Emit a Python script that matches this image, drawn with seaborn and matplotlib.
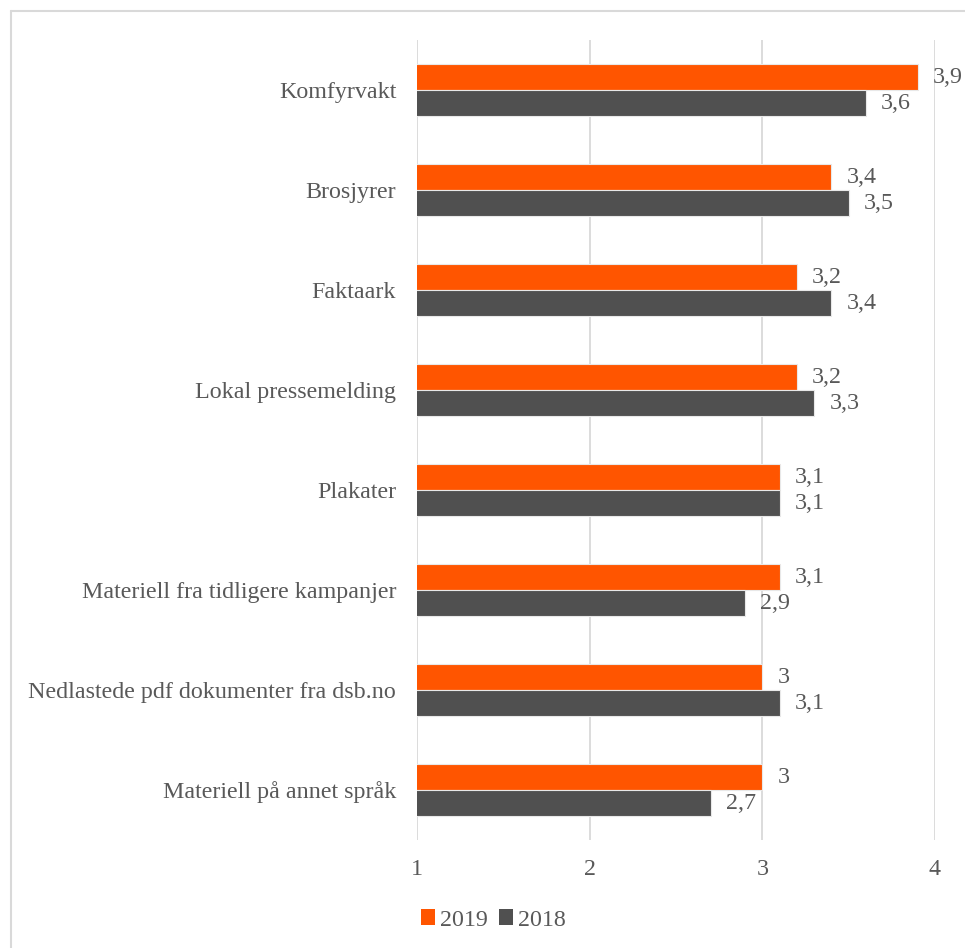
import matplotlib
matplotlib.use("Agg")
import matplotlib.pyplot as plt
from matplotlib.lines import Line2D
from matplotlib.patches import Patch
import pandas as pd
import seaborn as sns

categories = [
    "Komfyrvakt",
    "Brosjyrer",
    "Faktaark",
    "Lokal pressemelding",
    "Plakater",
    "Materiell fra tidligere kampanjer",
    "Nedlastede pdf dokumenter fra dsb.no",
    "Materiell på annet språk",
]
values_2019 = [3.9, 3.4, 3.2, 3.2, 3.1, 3.1, 3.0, 3.0]
values_2018 = [3.6, 3.5, 3.4, 3.3, 3.1, 2.9, 3.1, 2.7]
years = ["2019", "2018"]
x_ticks = [1, 2, 3, 4]

colors = {"2019": "#FF5500", "2018": "#505050"}
text_color = "#595959"
grid_color = "#D9D9D9"
fs = 17.3

df = pd.DataFrame({
    "Kategori": categories * 2,
    "År": ["2019"] * len(categories) + ["2018"] * len(categories),
    "Verdi": values_2019 + values_2018,
})

sns.set_theme(style="white")
plt.rcParams["font.family"] = ["Liberation Serif", "DejaVu Serif"]

fig = plt.figure(figsize=(9.65, 9.48), dpi=100)
ax = fig.add_axes([0.4321, 0.1139, 0.5368, 0.8439])

sns.barplot(
    data=df, y="Kategori", x="Verdi", hue="År", hue_order=years,
    order=categories, palette=colors, orient="h", width=0.52,
    saturation=1, edgecolor="#E8E8E8", linewidth=0.8, legend=False,
    ax=ax, zorder=3,
)

ax.set_xlim(1, 4)
ax.set_xticks(x_ticks)
ax.set_xticklabels([str(t) for t in x_ticks])
ax.xaxis.grid(True, color=grid_color, linewidth=1.3, zorder=0)
ax.set_axisbelow(True)
for s in ax.spines.values():
    s.set_visible(False)
ax.set_xlabel("")
ax.set_ylabel("")
ax.tick_params(axis="x", length=0, pad=14, labelsize=fs, labelcolor=text_color)
ax.tick_params(axis="y", length=0, pad=15, labelsize=fs, labelcolor=text_color)

for cont in ax.containers:
    labels = [f"{b.get_width():g}".replace(".", ",") for b in cont]
    ax.bar_label(cont, labels=labels, padding=11, fontsize=fs,
                 color=text_color, clip_on=False)

# chart frame (top and left edge)
fig.add_artist(Line2D([11 / 965, 11 / 965], [0, 1 - 11 / 948],
                      color=grid_color, linewidth=1.5, transform=fig.transFigure))
fig.add_artist(Line2D([11 / 965, 1], [1 - 11 / 948, 1 - 11 / 948],
                      color=grid_color, linewidth=1.5, transform=fig.transFigure))

handles = [Patch(facecolor=colors[y], edgecolor="none") for y in years]
fig.legend(handles, years, loc="center", bbox_to_anchor=(0.511, 1 - 920 / 948),
           ncol=2, frameon=False, fontsize=fs, labelcolor=text_color,
           handlelength=0.6, handleheight=0.6, handletextpad=0.2,
           columnspacing=0.45)

fig.savefig("out.png", dpi=100)
